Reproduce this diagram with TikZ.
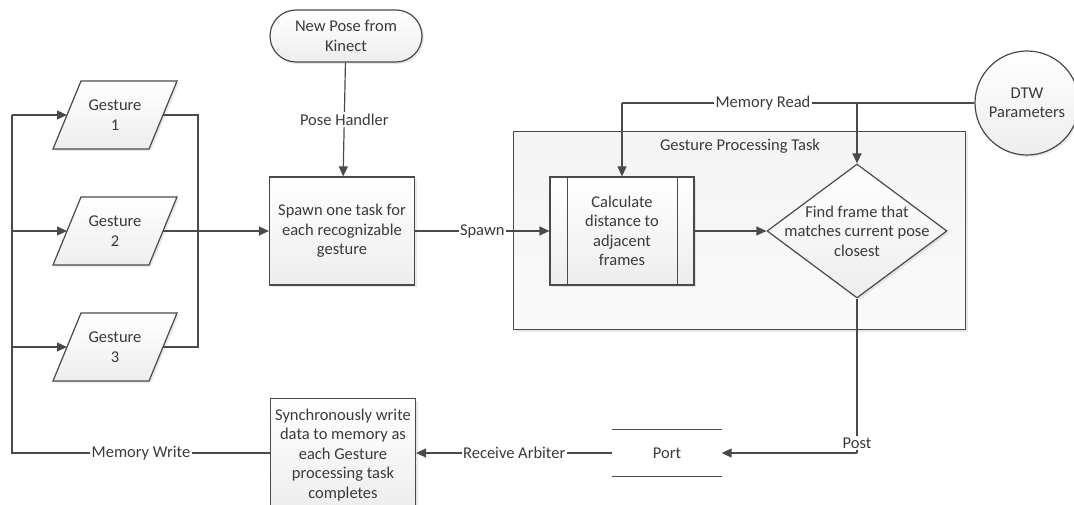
\documentclass[tikz,border=0pt]{standalone}
\usepackage{fontspec}
\setmainfont{Carlito}
\usetikzlibrary{arrows.meta,shapes.geometric,shadows,calc}
\definecolor{ln}{HTML}{4A4A4A}
\definecolor{tx}{HTML}{3A3A3A}
\begin{document}
\begin{tikzpicture}[x=1pt,y=-1pt,
  font=\fontsize{16.5}{19.5}\selectfont, text=tx,
  line/.style={draw=ln, line width=1.2pt},
  arr/.style={line, -{Triangle[length=10pt,width=9pt]}},
  shd/.style={drop shadow={opacity=0.18,shadow xshift=2pt,shadow yshift=-2pt}},
  box/.style={draw=ln, line width=1.2pt, top color=white, bottom color=gray!14, align=center, inner sep=0pt, shd},
  txt/.style={align=center, inner sep=0pt},
  lbl/.style={fill=white, inner sep=1.5pt}
]
\useasboundingbox (0,0) rectangle (1074,505);

% container
\node[box, top color=gray!9, bottom color=gray!4, minimum width=452, minimum height=198, anchor=north west] (gpt) at (513,131) {};
\node[txt] (gptl) at (740,146) {Gesture Processing Task};

% terminal
\node[box, rounded corners=26pt, minimum width=152, minimum height=52] (kin) at (346,36) {New Pose from\\Kinect};

% gestures
\foreach \i/\y in {1/115,2/231,3/347}{
  \path[draw=ln, line width=1.2pt, top color=white, bottom color=gray!14, shd]
    (53,\y+34) -- (149,\y+34) -- (177,\y-34) -- (81,\y-34) -- cycle;
  \node[txt] (g\i) at (115,\y) {Gesture\\\i};
  \coordinate (g\i l) at (67,\y);
  \coordinate (g\i r) at (163,\y);
  \coordinate (bl\i) at (12,\y);
}

\node[box, minimum width=145, minimum height=108] (spawn) at (342,231) {Spawn one task for\\each recognizable\\gesture};

\node[box, minimum width=144, minimum height=108] (calc) at (622,231) {Calculate\\distance to\\adjacent\\frames};
\draw[line] ($(calc.north west)+(18,0)$) -- ($(calc.south west)+(18,0)$);
\draw[line] ($(calc.north east)+(-17,0)$) -- ($(calc.south east)+(-17,0)$);

\node[box, diamond, minimum width=180, minimum height=134] (dia) at (857,231) {};
\node[txt] (diat) at (857,231) {Find frame that\\matches current pose\\closest};

\node[box, circle, minimum size=104] (dtw) at (1027,103) {DTW\\Parameters};

\node[minimum width=109, minimum height=46, inner sep=0pt] (port) at (667,453) {Port};
\draw[line] (port.north west) -- (port.north east);
\draw[line] (port.south west) -- (port.south east);

\node[box, minimum width=145, minimum height=112, anchor=north] (sync) at (343,398) {Synchronously write\\data to memory as\\each Gesture\\processing task\\completes};

% connectors
\draw[arr] (kin) -- node[lbl]{Pose Handler} (spawn);
\coordinate (busR) at (198,231);
\draw[line] (g1r) -| (busR);
\draw[line] (g3r) -| (busR);
\draw[arr] (g2r) -- (spawn.west);
\draw[arr] (spawn) -- node[lbl]{Spawn} (calc);
\draw[arr] (calc) -- (dia);

\coordinate (mrL) at (622,103);
\coordinate (mrR) at (857,103);
\draw[line] (dtw.west) -- node[lbl, pos=0.6]{Memory Read} (mrL);
\draw[arr] (mrL) -- (calc.north);
\draw[arr] (mrR) -- (dia.north);

\coordinate (post) at (857,453);
\draw[line] (dia.south) -- (post);
\draw[arr] (post) -- (port.east);
\node[lbl] (postl) at (857,443) {Post};

\draw[arr] (port.west) -- node[lbl]{Receive Arbiter} (sync.east |- port.west);
\coordinate (mwL) at (12,453);
\draw[line] (sync.west |- mwL) -- node[lbl]{Memory Write} (mwL) -- (bl1);
\draw[arr] (bl1) -- (g1l);
\draw[arr] (bl2) -- (g2l);
\draw[arr] (bl3) -- (g3l);
\end{tikzpicture}
\end{document}
